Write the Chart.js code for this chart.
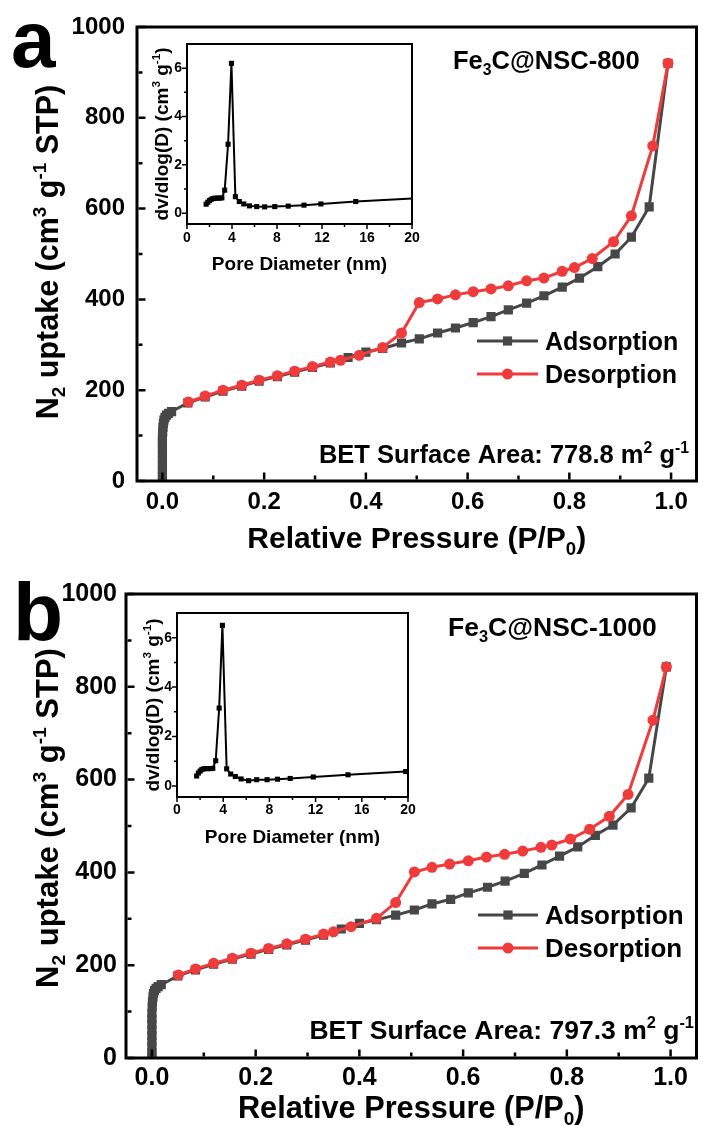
<!DOCTYPE html>
<html><head><meta charset="utf-8">
<script src="https://cdn.jsdelivr.net/npm/chart.js@4.4.1/dist/chart.umd.min.js"></script>
<style>
html,body{margin:0;padding:0;background:#fff;}
body{width:703px;height:1126px;position:relative;overflow:hidden;}
canvas{position:absolute;}
</style></head>
<body>
<canvas id="mainA" width="703" height="560" style="left:0;top:0"></canvas>
<canvas id="mainB" width="703" height="566" style="left:0;top:560px"></canvas>
<canvas id="insA" width="295" height="250" style="left:130px;top:30px"></canvas>
<canvas id="insB" width="300" height="250" style="left:120px;top:596px"></canvas>
<script>
// ---------- tick values ----------
const xTicksMain = [0, 0.2, 0.4, 0.6, 0.8, 1.0];
const xMinorMain = [0.1, 0.3, 0.5, 0.7, 0.9];
const yTicksMain = [0, 200, 400, 600, 800, 1000];
const yMinorMain = [100, 300, 500, 700, 900];
const xTicksInset = [0, 4, 8, 12, 16, 20];
const xMinorInset = [2, 6, 10, 14, 18];
const yTicksInset = [0, 2, 4, 6];
const yMinorInset = [1, 3, 5];

// ---------- panel a : Fe3C@NSC-800 ----------
const adsA_P = [0,0,0,0,0,0,0,0,0,0.0005,0.001,0.002,0.003,0.005,0.008,0.012,0.018,
  0.05,0.084,0.119,0.156,0.19,0.226,0.26,0.295,0.33,0.365,0.40,0.433,
  0.47,0.505,0.541,0.576,0.611,0.646,0.68,0.716,0.75,0.786,0.82,0.856,0.89,0.922,0.957,0.994];
const adsA_V = [2,12,24,36,48,60,72,84,96,108,118,127,134,140,145,149,153,
  172,185,198,209,220,230,240,250,260,272,284,292,
  304,313,326,337,349,362,377,392,408,427,447,472,500,537,604,920];
const desA_P = [0.994,0.964,0.922,0.887,0.845,0.81,0.786,0.75,0.716,0.68,0.646,0.611,0.576,0.541,0.505,0.47,0.433,0.387,0.35,0.33,0.295,0.26,0.226,0.19,0.156,0.119,0.084,0.051];
const desA_V = [920,738,584,527,490,470,462,447,441,430,423,417,410,401,393,326,294,277,266,262,252,242,232,222,211,200,187,174];
const psdA_D = [1.7,1.85,2.0,2.15,2.3,2.5,2.7,2.9,3.1,3.35,3.65,3.95,4.3,4.65,5.05,5.55,6.2,6.9,7.8,9.0,10.4,11.9,15.0,24.5];
const psdA_V = [0.37,0.45,0.52,0.57,0.6,0.62,0.62,0.62,0.63,0.95,2.85,6.2,0.68,0.48,0.38,0.30,0.27,0.26,0.27,0.29,0.33,0.38,0.48,0.72];

// ---------- panel b : Fe3C@NSC-1000 ----------
const adsB_P = [0,0,0,0,0,0,0,0,0,0.0005,0.001,0.002,0.003,0.005,0.008,0.012,0.018,
  0.05,0.084,0.119,0.155,0.191,0.225,0.26,0.296,0.331,0.365,0.40,0.433,
  0.47,0.506,0.54,0.576,0.61,0.647,0.681,0.718,0.752,0.786,0.821,0.855,0.889,0.924,0.958,0.992];
const adsB_V = [2,12,24,36,48,60,72,84,96,110,121,131,139,145,150,154,158,
  177,190,202,213,224,234,244,254,265,278,290,298,
  308,319,332,342,356,368,381,398,416,435,455,480,502,539,603,843];
const desB_P = [0.992,0.966,0.918,0.882,0.844,0.807,0.771,0.75,0.715,0.68,0.645,0.61,0.574,0.54,0.506,0.47,0.433,0.384,0.35,0.331,0.296,0.26,0.225,0.191,0.155,0.119,0.084,0.051];
const desB_V = [843,728,568,521,493,472,459,454,446,439,433,425,418,411,401,335,301,283,272,267,256,246,236,226,215,204,192,179];
const psdB_D = [1.7,1.85,2.0,2.15,2.3,2.5,2.7,2.9,3.1,3.35,3.65,3.93,4.3,4.65,5.05,5.55,6.2,6.9,7.8,8.7,9.8,11.8,14.8,19.8];
const psdB_V = [0.4,0.52,0.6,0.66,0.69,0.7,0.7,0.7,0.71,1.02,3.15,6.5,0.69,0.48,0.38,0.28,0.21,0.25,0.25,0.27,0.30,0.36,0.45,0.58];

// ---------- texts ([text, mode]: 0 normal, 1 superscript, -1 subscript) ----------
const seriesNames = ['Adsorption', 'Desorption'];
const panelLetters = ['a', 'b'];
const sampleA = [['Fe',0],['3',-1],['C@NSC-800',0]];
const sampleB = [['Fe',0],['3',-1],['C@NSC-1000',0]];
const betA = [['BET Surface Area: 778.8 m',0],['2',1],[' g',0],['-1',1]];
const betB = [['BET Surface Area: 797.3 m',0],['2',1],[' g',0],['-1',1]];
const xTitleMain = [['Relative Pressure (P/P',0],['0',-1],[')',0]];
const yTitleMain = [['N',0],['2',-1],[' uptake (cm',0],['3',1],[' g',0],['-1',1],[' STP)',0]];
const xTitleInset = [['Pore Diameter (nm)',0]];
const yTitleInset = [['dv/dlog(D) (cm',0],['3',1],[' g',0],['-1',1],[')',0]];

const FONT = 'Arial, "Liberation Sans", Helvetica, sans-serif';
const GRAY = '#474747';
const RED = '#ef3b3b';

function pts(xs, ys) { return xs.map((x, i) => ({x: x, y: ys[i]})); }

function richWidth(ctx, segs, size) {
  let w = 0;
  segs.forEach(([t, m]) => {
    const s = m ? size * 0.62 : size;
    ctx.font = 'bold ' + s + 'px ' + FONT;
    w += ctx.measureText(t).width;
  });
  return w;
}
function drawRich(ctx, segs, x, y, size, align, rot) {
  ctx.save();
  ctx.translate(x, y);
  if (rot) ctx.rotate(rot);
  ctx.fillStyle = '#000';
  ctx.textBaseline = 'alphabetic';
  ctx.textAlign = 'left';
  const w = richWidth(ctx, segs, size);
  let cx = align === 'center' ? -w / 2 : (align === 'right' ? -w : 0);
  segs.forEach(([t, m]) => {
    const s = m ? size * 0.62 : size;
    ctx.font = 'bold ' + s + 'px ' + FONT;
    const dy = m === -1 ? size * 0.22 : (m === 1 ? -size * 0.40 : 0);
    ctx.fillText(t, cx, dy);
    cx += ctx.measureText(t).width;
  });
  ctx.restore();
}

const deco = {
  id: 'deco',
  afterDatasetsDraw(chart, args, o) {
    const ctx = chart.ctx, a = chart.chartArea;
    const xs = chart.scales.x, ys = chart.scales.y;
    ctx.save();
    ctx.strokeStyle = '#000';
    ctx.lineWidth = o.frame;
    ctx.strokeRect(a.left, a.top, a.right - a.left, a.bottom - a.top);
    const d = o.inward ? -1 : 1;
    ctx.lineWidth = o.tickW;
    ctx.beginPath();
    const off = o.frame / 2;
    o.xMajor.forEach(v => { const p = xs.getPixelForValue(v); ctx.moveTo(p, a.bottom + d * off); ctx.lineTo(p, a.bottom + d * (off + o.majLen)); });
    o.xMinor.forEach(v => { const p = xs.getPixelForValue(v); ctx.moveTo(p, a.bottom + d * off); ctx.lineTo(p, a.bottom + d * (off + o.minLen)); });
    o.yMajor.forEach(v => { const p = ys.getPixelForValue(v); ctx.moveTo(a.left - d * off, p); ctx.lineTo(a.left - d * (off + o.majLen), p); });
    o.yMinor.forEach(v => { const p = ys.getPixelForValue(v); ctx.moveTo(a.left - d * off, p); ctx.lineTo(a.left - d * (off + o.minLen), p); });
    ctx.stroke();
    // axis titles
    drawRich(ctx, o.xTitle, (a.left + a.right) / 2, a.bottom + o.xTitleOff, o.xTitleSize, 'center', 0);
    drawRich(ctx, o.yTitle, a.left - o.yTitleOff, (a.top + a.bottom) / 2 + (o.yTitleShift || 0), o.yTitleSize, 'center', -Math.PI / 2);
    // free texts
    (o.texts || []).forEach(t => drawRich(ctx, t.segs, t.x, t.y, t.size, t.align, 0));
    // legend
    if (o.legend) {
      const L = o.legend;
      chart.data.datasets.forEach((ds, i) => {
        const y = L.ys[i];
        ctx.strokeStyle = ds.borderColor; ctx.lineWidth = ds.borderWidth;
        ctx.beginPath(); ctx.moveTo(L.x0, y); ctx.lineTo(L.x1, y); ctx.stroke();
        ctx.fillStyle = ds.pointBackgroundColor;
        const cx = (L.x0 + L.x1) / 2;
        if (ds.pointStyle === 'rect') {
          const s = ds.pointRadius * Math.SQRT1_2;
          ctx.fillRect(cx - s, y - s, 2 * s, 2 * s);
        } else {
          ctx.beginPath(); ctx.arc(cx, y, ds.pointRadius, 0, Math.PI * 2); ctx.fill();
        }
        drawRich(ctx, [[seriesNames[i], 0]], L.textX, y + L.size * 0.36, L.size, 'left', 0);
      });
    }
    ctx.restore();
  }
};

function zeroPad(s) { s.paddingTop = 0; s.paddingBottom = 0; s.paddingLeft = 0; s.paddingRight = 0; }

function makeMain(id, ads, des, cfg) {
  return new Chart(document.getElementById(id), {
    type: 'line',
    data: { datasets: [
      { label: seriesNames[0], data: ads, borderColor: GRAY, backgroundColor: GRAY, pointBackgroundColor: GRAY,
        pointBorderColor: GRAY, borderWidth: 3, pointStyle: 'rect', pointRadius: 6.5, pointBorderWidth: 0, order: 2, tension: 0 },
      { label: seriesNames[1], data: des, borderColor: RED, backgroundColor: RED, pointBackgroundColor: RED,
        pointBorderColor: RED, borderWidth: 3, pointStyle: 'circle', pointRadius: 5.5, pointBorderWidth: 0, order: 1, tension: 0 }
    ]},
    options: {
      responsive: false, animation: false, devicePixelRatio: 1,
      layout: { padding: { left: 0, right: cfg.padR, top: cfg.padT, bottom: 0 } },
      plugins: { legend: { display: false }, tooltip: { enabled: false }, deco: cfg.deco },
      scales: {
        x: { type: 'linear', min: -0.05, max: 1.05,
          afterBuildTicks: s => { s.ticks = xTicksMain.map(v => ({ value: v })); },
          afterFit: s => { s.height = cfg.xH; zeroPad(s); },
          grid: { display: false, drawTicks: false }, border: { display: false },
          ticks: { padding: cfg.xPad, color: '#000', autoSkip: false, maxRotation: 0,
            font: { family: FONT, size: cfg.tick, weight: 'bold' }, callback: v => Number(v).toFixed(1) } },
        y: { type: 'linear', min: 0, max: 1000,
          afterBuildTicks: s => { s.ticks = yTicksMain.map(v => ({ value: v })); },
          afterFit: s => { s.width = cfg.yW; zeroPad(s); },
          grid: { display: false, drawTicks: false }, border: { display: false },
          ticks: { padding: cfg.yPad, color: '#000', autoSkip: false,
            font: { family: FONT, size: cfg.tick, weight: 'bold' }, callback: v => String(v) } }
      }
    },
    plugins: [deco]
  });
}

function makeInset(id, data, cfg) {
  return new Chart(document.getElementById(id), {
    type: 'line',
    data: { datasets: [
      { label: 'PSD', data: data, borderColor: '#000', backgroundColor: '#000', pointBackgroundColor: '#000',
        borderWidth: 2, pointStyle: 'rect', pointRadius: 3.6, pointBorderWidth: 0, tension: 0 }
    ]},
    options: {
      responsive: false, animation: false, devicePixelRatio: 1,
      layout: { padding: { left: 0, right: cfg.padR, top: cfg.padT, bottom: 0 } },
      plugins: { legend: { display: false }, tooltip: { enabled: false }, deco: cfg.deco },
      scales: {
        x: { type: 'linear', min: 0, max: 20,
          afterBuildTicks: s => { s.ticks = xTicksInset.map(v => ({ value: v })); },
          afterFit: s => { s.height = cfg.xH; zeroPad(s); },
          grid: { display: false, drawTicks: false }, border: { display: false },
          ticks: { padding: cfg.xPad, color: '#000', autoSkip: false, maxRotation: 0,
            font: { family: FONT, size: cfg.tick, weight: 'bold' } } },
        y: { type: 'linear', min: -0.45, max: 7,
          afterBuildTicks: s => { s.ticks = yTicksInset.map(v => ({ value: v })); },
          afterFit: s => { s.width = cfg.yW; zeroPad(s); },
          grid: { display: false, drawTicks: false }, border: { display: false },
          ticks: { padding: cfg.yPad, color: '#000', autoSkip: false,
            font: { family: FONT, size: cfg.tick, weight: 'bold' } } }
      }
    },
    plugins: [deco]
  });
}

// ---------- panel a ----------
makeMain('mainA', pts(adsA_P, adsA_V), pts(desA_P, desA_V), {
  padR: 2, padT: 27, xH: 79, yW: 137, xPad: 7, yPad: 12, tick: 24,
  deco: { frame: 3, tickW: 2.5, inward: true, majLen: 7, minLen: 4,
    xMajor: xTicksMain, xMinor: xMinorMain, yMajor: yTicksMain, yMinor: yMinorMain,
    xTitle: xTitleMain, yTitle: yTitleMain, xTitleSize: 30, yTitleSize: 30.5, xTitleOff: 67, yTitleOff: 79, yTitleShift: -2,
    texts: [
      { segs: [[panelLetters[0], 0]], x: 11, y: 67, size: 80, align: 'left' },
      { segs: sampleA, x: 453, y: 69, size: 25.5, align: 'left' },
      { segs: betA, x: 689, y: 463, size: 25.5, align: 'right' }
    ],
    legend: { x0: 477, x1: 538, ys: [341, 374], textX: 545, size: 25 } }
});

// ---------- panel b ----------
makeMain('mainB', pts(adsB_P, adsB_V), pts(desB_P, desB_V), {
  padR: 3, padT: 34, xH: 68, yW: 126, xPad: 5, yPad: 9, tick: 25,
  deco: { frame: 3, tickW: 2.5, inward: true, majLen: 7, minLen: 4,
    xTitle: xTitleMain, yTitle: yTitleMain, xTitleSize: 30.7, yTitleSize: 31, xTitleOff: 60, yTitleOff: 68, yTitleShift: -8,
    xMajor: xTicksMain, xMinor: xMinorMain, yMajor: yTicksMain, yMinor: yMinorMain,
    texts: [
      { segs: [[panelLetters[1], 0]], x: 13, y: 80, size: 82, align: 'left' },
      { segs: sampleB, x: 448, y: 76, size: 26.5, align: 'left' },
      { segs: betB, x: 694, y: 479, size: 26.5, align: 'right' }
    ],
    legend: { x0: 478, x1: 538, ys: [355, 388], textX: 545, size: 26 } }
});

// ---------- insets ----------
makeInset('insA', pts(psdA_D, psdA_V), {
  padR: 13, padT: 14, xH: 56, yW: 57, xPad: 6, yPad: 5, tick: 14,
  deco: { frame: 2, tickW: 1.5, inward: false, majLen: 4, minLen: 2,
    xMajor: xTicksInset, xMinor: xMinorInset, yMajor: yTicksInset, yMinor: yMinorInset,
    xTitle: xTitleInset, yTitle: yTitleInset, xTitleSize: 19, yTitleSize: 19, xTitleOff: 46, yTitleOff: 19 }
});
makeInset('insB', pts(psdB_D, psdB_V), {
  padR: 12, padT: 17, xH: 49, yW: 57, xPad: 5, yPad: 5, tick: 14,
  deco: { frame: 2, tickW: 1.5, inward: false, majLen: 4, minLen: 2,
    xMajor: xTicksInset, xMinor: xMinorInset, yMajor: yTicksInset, yMinor: yMinorInset,
    xTitle: xTitleInset, yTitle: yTitleInset, xTitleSize: 19, yTitleSize: 19, xTitleOff: 46, yTitleOff: 18 }
});
</script>
</body></html>
